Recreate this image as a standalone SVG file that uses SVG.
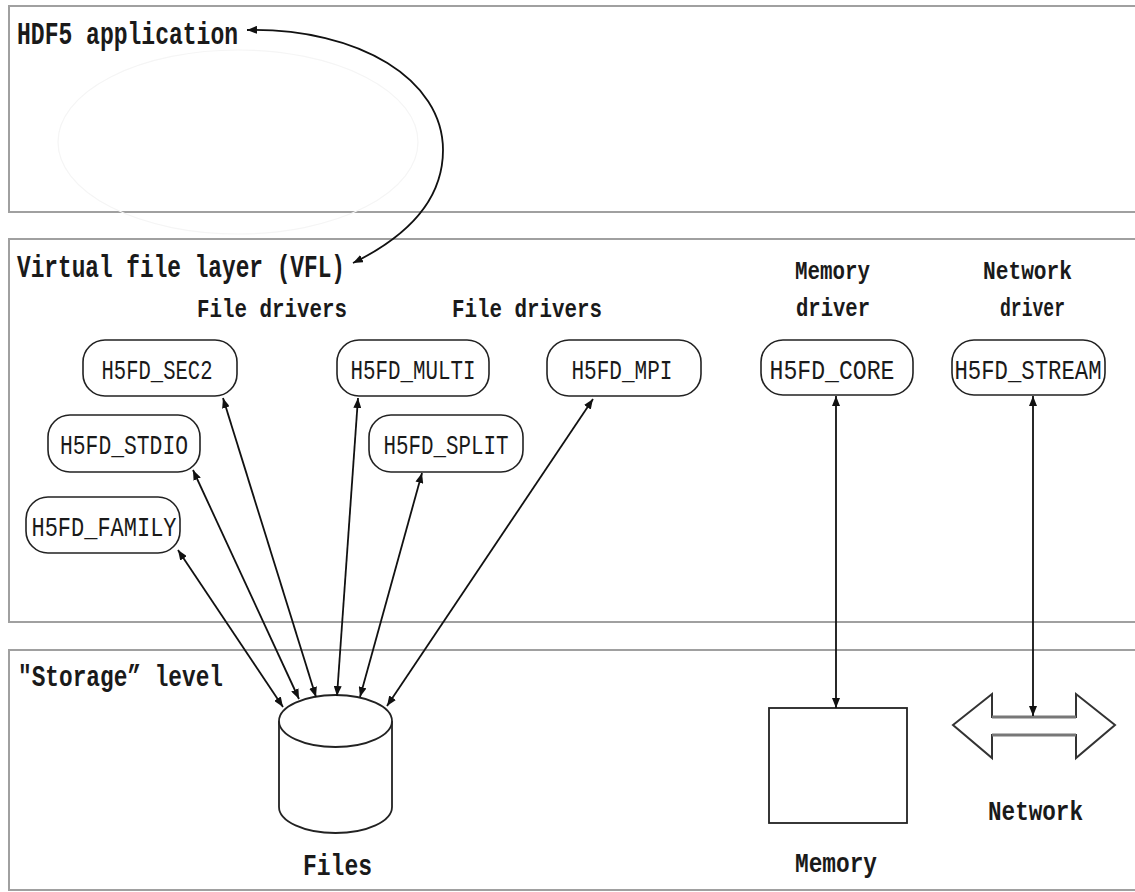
<svg xmlns="http://www.w3.org/2000/svg" width="1135" height="892" viewBox="0 0 1135 892">
<defs>
<marker id="ah" viewBox="0 0 10 8" refX="10" refY="4" markerWidth="10" markerHeight="8" markerUnits="userSpaceOnUse" orient="auto-start-reverse">
<path d="M0,0 L10,4 L0,8 Z" fill="#111"/>
</marker>
<style>
.panel{fill:#fff;stroke:#a0a0a0;stroke-width:2}
.t{font-family:"Liberation Mono","DejaVu Sans Mono",monospace;fill:#1a1a1a;font-weight:bold}
.n{fill:#fff;stroke:#222;stroke-width:1.6}
.c{fill:none;stroke:#111;stroke-width:1.8;marker-start:url(#ah);marker-end:url(#ah)}
.nt{font-family:"Liberation Mono","DejaVu Sans Mono",monospace;fill:#1a1a1a;font-size:27px;text-anchor:middle}
</style>
</defs>
<rect width="1135" height="892" fill="#fff"/>

<g id="panel-app">
<rect class="panel" x="9" y="6" width="1140" height="206"/>
<ellipse cx="238" cy="142" rx="180" ry="92" fill="none" stroke="#f5f5f5" stroke-width="1.2"/>
<text class="t" x="17" y="44" font-size="32" textLength="221" lengthAdjust="spacingAndGlyphs">HDF5 application</text>
</g>

<g id="panel-vfl">
<rect class="panel" x="9" y="239" width="1140" height="383"/>
<text class="t" x="17" y="277" font-size="32" textLength="328" lengthAdjust="spacingAndGlyphs">Virtual file layer (VFL)</text>
<text class="t" x="197" y="317" font-size="25" textLength="150" lengthAdjust="spacingAndGlyphs">File drivers</text>
<text class="t" x="452" y="317" font-size="25" textLength="150" lengthAdjust="spacingAndGlyphs">File drivers</text>
<text class="t" x="795" y="279" font-size="25" textLength="75" lengthAdjust="spacingAndGlyphs">Memory</text>
<text class="t" x="796" y="316" font-size="25" textLength="74" lengthAdjust="spacingAndGlyphs">driver</text>
<text class="t" x="983" y="279" font-size="25" textLength="89" lengthAdjust="spacingAndGlyphs">Network</text>
<text class="t" x="1000" y="316" font-size="25" textLength="65" lengthAdjust="spacingAndGlyphs">driver</text>
</g>

<g id="panel-storage">
<rect class="panel" x="9" y="650" width="1140" height="240"/>
<text class="t" x="18" y="686" font-size="29" textLength="205" lengthAdjust="spacingAndGlyphs">"Storage” level</text>
</g>

<g id="node-sec2">
<rect class="n" x="83" y="340" width="154" height="56" rx="22"/>
<text class="nt" x="157" y="379" textLength="111" lengthAdjust="spacingAndGlyphs">H5FD_SEC2</text>
</g>
<g id="node-stdio">
<rect class="n" x="48" y="415" width="152" height="57" rx="22"/>
<text class="nt" x="124" y="454" textLength="128" lengthAdjust="spacingAndGlyphs">H5FD_STDIO</text>
</g>
<g id="node-family">
<rect class="n" x="26" y="497" width="154" height="56" rx="22"/>
<text class="nt" x="104" y="536" textLength="145" lengthAdjust="spacingAndGlyphs">H5FD_FAMILY</text>
</g>
<g id="node-multi">
<rect class="n" x="337" y="340" width="152" height="56" rx="22"/>
<text class="nt" x="413" y="379" textLength="125" lengthAdjust="spacingAndGlyphs">H5FD_MULTI</text>
</g>
<g id="node-split">
<rect class="n" x="369" y="415" width="154" height="57" rx="22"/>
<text class="nt" x="446" y="454" textLength="125" lengthAdjust="spacingAndGlyphs">H5FD_SPLIT</text>
</g>
<g id="node-mpi">
<rect class="n" x="547" y="340" width="154" height="56" rx="22"/>
<text class="nt" x="622" y="379" textLength="101" lengthAdjust="spacingAndGlyphs">H5FD_MPI</text>
</g>
<g id="node-core">
<rect class="n" x="761" y="340" width="152" height="55" rx="22"/>
<text class="nt" x="832" y="379" textLength="125" lengthAdjust="spacingAndGlyphs">H5FD_CORE</text>
</g>
<g id="node-stream">
<rect class="n" x="952" y="340" width="153" height="55" rx="22"/>
<text class="nt" x="1028" y="379" textLength="147" lengthAdjust="spacingAndGlyphs">H5FD_STREAM</text>
</g>

<g id="node-files">
<path d="M279,721 L279,807 A56.5,26 0 0 0 392,807 L392,721" fill="#fff" stroke="#222" stroke-width="1.8"/>
<ellipse cx="335.5" cy="721" rx="56.5" ry="26" fill="#fff" stroke="#222" stroke-width="1.8"/>
<text class="t" x="303" y="875" font-size="29" textLength="69" lengthAdjust="spacingAndGlyphs">Files</text>
</g>

<g id="node-memory">
<rect x="769" y="708" width="138" height="115" fill="#fff" stroke="#222" stroke-width="1.8"/>
<text class="t" x="795" y="872" font-size="28" textLength="82" lengthAdjust="spacingAndGlyphs">Memory</text>
</g>

<g id="node-network">
<path d="M953,725 L992,694 L992,717 L1076,717 L1076,694 L1115,725 L1076,758 L1076,735 L992,735 L992,758 Z" fill="#fff" stroke="#333" stroke-width="2"/>
<line x1="992" y1="717" x2="1076" y2="717" stroke="#777" stroke-width="3"/>
<line x1="992" y1="735" x2="1076" y2="735" stroke="#777" stroke-width="3"/>
<text class="t" x="988" y="820" font-size="28" textLength="95" lengthAdjust="spacingAndGlyphs">Network</text>
</g>

<g id="connectors">
<path class="c" d="M247,30 C360,28 443,80 443,150 C443,205 400,240 353,263"/>
<line class="c" x1="178" y1="550" x2="283" y2="707"/>
<line class="c" x1="193" y1="470" x2="299" y2="699"/>
<line class="c" x1="223" y1="398" x2="316" y2="697"/>
<line class="c" x1="358" y1="398" x2="337" y2="696"/>
<line class="c" x1="422" y1="473" x2="360" y2="697"/>
<line class="c" x1="593" y1="399" x2="387" y2="706"/>
<line class="c" x1="836" y1="396" x2="836" y2="708"/>
<line class="c" x1="1033" y1="396" x2="1033" y2="716"/>
</g>
</svg>
